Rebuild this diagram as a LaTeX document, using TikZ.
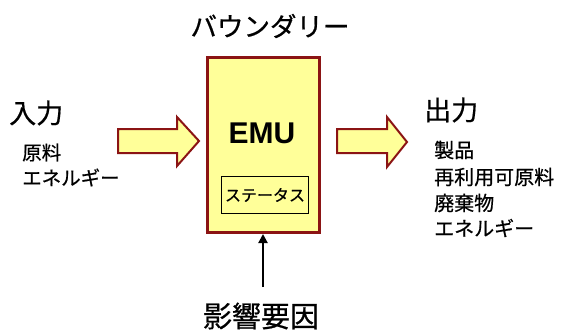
\documentclass[tikz,border=0pt]{standalone}
\usepackage{fontspec}
\setmainfont{Liberation Sans}
\newfontfamily\jp[FakeBold=0.6]{Noto Sans CJK JP}
\usetikzlibrary{arrows.meta}
\definecolor{boxred}{HTML}{8B1414}
\definecolor{boxfill}{HTML}{FFFF99}
\tikzset{
  jtext/.style={font=\jp, inner sep=0pt, text=black},
  fatarrow/.style={draw=boxred, fill=boxfill, line width=2pt, line join=miter},
}
\begin{document}
\begin{tikzpicture}[x=1pt,y=-1pt]
\useasboundingbox (0,0) rectangle (561,334);
% main box
\node[draw=boxred, fill=boxfill, line width=3pt, minimum width=112pt, minimum height=175pt, inner sep=0pt] (emu) at (263,145) {};
\node[font=\bfseries\fontsize{30}{30}\selectfont, inner sep=0pt] (emut) at (262,133) {EMU};
\node[draw=black, line width=0.8pt, minimum width=87pt, minimum height=37pt, inner sep=0pt] (stat) at (265,195) {};
\node[jtext, font=\jp\fontsize{16}{16}\selectfont] (statt) at (265,195) {ステータス};
% title
\node[jtext, font=\jp\fontsize{26.5}{26.5}\selectfont] (bound) at (270,26) {バウンダリー};
% input
\node[jtext, font=\jp\fontsize{27}{27}\selectfont, anchor=west] (in) at (9,113) {入力};
\node[jtext, font=\jp\fontsize{19.5}{19.5}\selectfont, anchor=west] (in1) at (22,152.5) {原料};
\node[jtext, font=\jp\fontsize{19.5}{19.5}\selectfont, anchor=west] (in2) at (22,177.5) {エネルギー};
% output
\node[jtext, font=\jp\fontsize{27}{27}\selectfont, anchor=west] (out) at (424,110) {出力};
\node[jtext, font=\jp\fontsize{20}{20}\selectfont, anchor=west] (o1) at (434,150) {製品};
\node[jtext, font=\jp\fontsize{20}{20}\selectfont, anchor=west] (o2) at (434,177) {再利用可原料};
\node[jtext, font=\jp\fontsize{20}{20}\selectfont, anchor=west] (o3) at (434,203) {廃棄物};
\node[jtext, font=\jp\fontsize{20}{20}\selectfont, anchor=west] (o4) at (434,228) {エネルギー};
% factor
\node[jtext, font=\jp\fontsize{29}{29}\selectfont] (fac) at (261,316) {影響要因};
\coordinate (facTop) at (263,287);
% arrows
\draw[fatarrow] (118,129) -- (177,129) -- (177,117) -- (199,141) -- (177,166) -- (177,153) -- (118,153) -- cycle;
\draw[fatarrow] (337,129) -- (387,129) -- (387,117) -- (407,142) -- (387,167) -- (387,153) -- (337,153) -- cycle;
\draw[line width=2pt, -{Triangle[length=9pt,width=9pt]}] (facTop) -- (facTop |- emu.south);
\end{tikzpicture}
\end{document}
